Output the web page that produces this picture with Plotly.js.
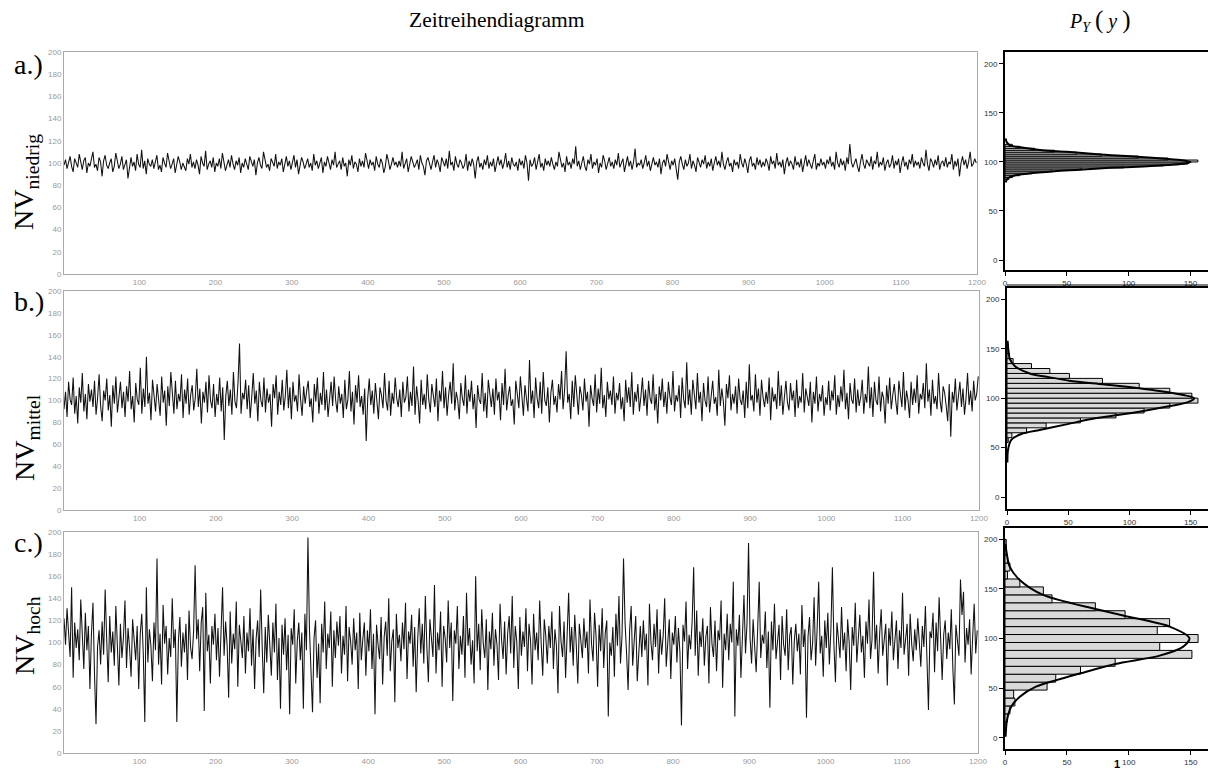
<!DOCTYPE html>
<html>
<head>
<meta charset="utf-8">
<script src="https://cdn.plot.ly/plotly-3.0.1.min.js"></script>
<style>html,body{margin:0;padding:0;background:#fff;}#chart{width:1208px;height:769px;}</style>
</head>
<body>
<div id="chart"></div>
<script>
// ---- Time series values (every 2nd time step, t = 1,3,5,...,1199) ----
const seriesNiedrig = [
98,103,95,101,106,97,92,104,100,96,108,99,94,102,105,91,100,97,103,110,
96,99,93,105,101,88,102,107,98,95,100,104,92,97,109,101,95,99,106,94,
100,103,86,98,105,97,101,93,108,99,96,112,95,102,90,104,99,97,103,95,
101,107,94,98,92,105,100,96,109,102,95,99,104,91,98,106,101,94,100,97,
93,104,99,108,96,101,95,103,98,90,106,100,97,111,94,99,102,96,105,92,
100,97,104,95,109,101,93,98,103,96,107,99,94,102,98,105,91,100,96,104,
99,94,106,101,97,103,89,100,105,98,95,110,102,96,99,93,104,100,97,108,
95,101,98,104,92,99,106,97,102,94,100,107,96,103,90,98,105,101,95,99,
104,96,100,93,108,98,102,95,99,105,91,101,97,106,100,94,103,98,110,96,
99,102,94,105,97,100,88,103,98,107,95,101,99,92,104,97,102,96,109,100,
95,103,98,101,93,106,99,96,104,100,91,97,108,102,94,99,105,98,101,96,
102,97,110,95,100,104,92,98,106,101,96,99,103,94,107,100,97,89,102,105,
98,94,101,107,96,103,99,92,105,100,97,104,95,111,98,101,93,106,99,96,
103,100,95,98,108,93,102,97,104,99,86,101,106,96,100,94,103,98,107,95,
101,97,104,92,99,106,98,103,95,100,109,96,102,94,105,99,97,101,93,104,
98,102,95,107,100,84,103,97,99,105,94,101,108,96,100,93,104,98,102,97,
105,99,94,101,97,110,103,96,100,92,106,98,101,95,104,99,115,97,102,94,
100,106,97,93,103,99,108,95,101,98,104,91,100,96,107,102,94,99,105,97,
101,95,103,98,109,96,100,104,92,99,106,97,102,94,101,113,96,100,98,103,
95,100,107,97,102,93,99,105,98,101,96,104,90,100,103,97,108,99,94,102,
98,104,96,85,101,106,99,94,103,97,100,108,95,102,98,92,105,100,96,103,
99,107,95,101,97,104,93,100,106,98,102,96,110,99,94,101,105,97,100,92,
103,98,101,95,108,100,96,104,99,91,102,106,97,100,94,105,98,103,96,101,
97,104,100,93,106,99,102,95,109,98,101,96,103,90,100,105,97,102,99,94,
106,98,101,96,104,92,100,107,97,103,99,95,102,108,94,100,97,104,98,101,
95,103,99,106,97,101,94,110,100,96,104,98,102,93,105,99,117,101,96,100,
104,97,92,101,108,99,95,103,100,97,106,94,102,99,110,96,101,98,105,93,
100,103,96,99,107,95,102,98,104,91,100,106,97,101,94,103,99,108,96,102,
98,101,95,105,100,97,112,99,93,104,101,96,103,98,107,94,100,102,97,105,
96,101,99,108,94,102,97,104,88,100,106,98,103,95,101,110,97,99,104,100];

const seriesMittel = [
92,108,85,117,101,96,121,88,104,79,112,98,125,90,106,83,115,99,110,94,
118,87,102,124,95,81,109,100,120,91,105,76,114,97,122,89,103,117,93,108,
85,113,99,127,92,104,80,116,101,96,130,88,111,94,140,97,107,82,119,100,
90,115,103,86,122,98,109,77,113,95,126,101,88,118,92,106,99,124,84,110,
97,120,87,105,114,91,102,129,94,111,79,108,98,117,89,123,100,93,115,85,
106,96,121,90,112,64,104,118,95,110,87,126,99,93,116,152,88,107,101,119,
92,114,84,103,125,97,109,81,117,100,94,121,89,111,98,106,76,115,102,123,
87,108,96,119,91,104,128,93,112,83,117,99,105,90,124,101,86,113,97,109,
118,94,102,80,115,99,121,88,107,96,126,91,110,85,103,117,95,122,100,89,
113,97,106,84,119,92,101,127,90,108,78,114,98,123,94,104,87,111,63,102,
120,96,109,88,116,99,83,112,105,93,125,100,91,118,86,107,97,121,102,94,
110,85,117,98,103,122,90,108,95,131,87,113,100,79,119,96,106,92,124,101,
89,115,104,94,120,81,109,99,127,93,112,86,105,117,97,134,91,108,100,83,
116,102,95,123,88,110,99,118,92,106,75,114,101,97,125,90,107,84,119,103,
94,111,87,120,100,108,82,116,96,129,91,104,113,95,101,78,118,106,93,122,
99,86,114,103,90,137,97,109,84,121,102,93,117,88,126,100,95,112,80,107,
119,96,104,89,115,101,127,92,110,145,98,106,83,118,94,123,100,87,113,105,
91,120,99,108,76,114,102,95,124,89,111,97,130,93,105,85,117,101,109,96,
122,88,107,100,116,92,103,81,119,98,112,94,126,87,108,99,115,90,104,121,
95,110,86,118,102,97,124,91,106,79,113,100,120,94,108,88,117,103,96,127,
90,105,99,114,84,121,101,93,135,96,110,87,119,104,92,125,98,108,81,116,
100,94,122,89,107,118,97,103,86,128,95,111,99,77,115,102,123,91,106,97,
113,88,120,101,96,109,84,117,93,133,100,105,90,124,98,111,86,119,103,94,
108,97,121,82,112,99,106,92,127,95,114,87,103,118,98,91,116,100,109,85,
119,93,104,98,125,89,111,101,95,117,80,108,97,122,90,106,99,114,86,103,
96,118,91,109,100,123,87,105,94,113,99,128,92,107,83,116,101,97,120,89,
110,95,103,119,88,106,98,131,93,112,85,117,100,96,122,90,108,102,79,114,
97,121,92,105,115,99,87,118,103,94,126,91,109,100,84,117,96,111,98,123,
88,106,101,116,93,134,99,110,86,119,97,104,92,125,100,89,113,107,95,81,
115,67,108,98,120,91,104,117,94,111,87,102,125,96,109,90,118,100,106,122];

const seriesHoch = [
122,98,131,106,87,150,68,118,95,112,84,139,102,76,127,93,115,58,108,136,
72,26,96,111,80,119,89,148,103,64,124,91,110,79,133,100,61,117,86,105,
138,77,113,95,69,121,102,84,115,58,107,126,90,28,150,82,112,97,65,118,
93,176,80,108,62,134,99,115,71,104,87,140,95,112,28,100,123,78,109,91,
117,66,129,96,85,110,170,103,121,74,118,132,38,145,92,107,63,115,98,126,
84,113,69,106,150,88,119,97,50,128,81,108,94,137,60,116,101,86,124,72,
109,92,131,79,112,58,103,120,87,148,96,54,114,82,125,99,70,118,91,135,
66,104,40,116,89,122,75,107,35,113,98,130,63,101,118,84,109,40,126,93,
195,112,81,37,104,120,68,99,45,117,91,137,76,108,95,128,60,111,86,119,
97,124,72,106,89,133,65,114,101,80,122,93,109,58,127,84,103,118,70,111,
92,130,76,108,35,116,98,85,123,62,105,119,88,140,74,101,112,46,126,95,
107,83,118,94,136,67,110,99,125,78,114,55,103,131,90,117,81,142,96,64,
121,100,87,152,72,109,93,128,60,115,104,82,138,95,118,47,111,99,133,76,
106,89,124,68,145,97,113,80,102,63,160,92,117,75,130,99,86,121,57,110,
94,127,79,112,98,66,135,103,85,119,71,108,124,90,142,77,115,100,58,123,
88,110,96,131,74,117,102,62,126,93,109,84,138,99,70,121,106,81,115,95,
128,76,112,97,54,133,101,87,119,68,108,145,91,114,79,125,98,63,117,104,
86,122,95,110,72,139,99,83,127,105,60,116,92,131,77,108,120,33,100,88,
114,69,126,97,142,81,106,176,118,90,57,111,133,79,102,124,65,98,115,87,
120,93,108,61,135,100,84,117,96,130,72,112,89,106,140,78,103,121,67,109,
98,124,82,113,91,25,116,101,137,76,107,94,119,168,88,129,70,110,96,122,
79,105,115,63,132,99,87,120,74,111,102,138,59,108,93,126,84,117,100,155,
33,112,97,125,68,109,143,90,118,190,104,81,121,96,73,113,155,86,107,99,
128,77,110,41,119,93,135,85,102,116,66,124,98,88,130,75,106,114,62,101,
117,92,108,71,134,96,112,32,105,123,84,99,141,79,113,155,90,106,69,120,
95,127,80,111,168,98,64,118,103,86,132,93,109,74,121,100,57,114,97,136,
82,110,125,91,106,68,119,99,139,85,103,164,94,116,72,108,130,88,101,117,
61,113,97,128,84,106,120,76,111,95,145,89,104,117,70,126,99,83,112,93,
122,101,78,115,96,133,87,39,110,104,127,73,118,92,141,99,66,107,120,85,
109,94,130,77,44,116,100,88,157,125,146,82,113,98,121,71,105,135,90,111];

// ---- Histogram values (bin centres, counts) ----
const histA_bins   = [83,85,87,89,91,93,95,97,99,101,103,105,107,109,111,113,115,117];
const histA_counts = [3,6,12,22,38,62,96,128,148,156,132,108,78,58,40,24,12,6];
const histB_bins   = [57.5,62.5,67.5,72.5,77.5,82.5,87.5,92.5,97.5,102.5,107.5,112.5,117.5,122.5,127.5,132.5,137.5,142.5,147.5,152.5];
const histB_counts = [1,4,16,32,60,89,112,133,156,151,133,108,78,51,35,20,5,2,1,1];
const histC_bins   = [12,20,28,36,44,52,60,68,76,84,92,100,108,116,124,132,140,148,156,164,172,180,188,196];
const histC_counts = [1,2,4,8,7,34,41,61,89,151,125,156,123,133,97,73,38,31,12,2,4,2,1,1];

// ---- Fitted density curves (count, value) ----
const curveA_y = [124,120,117,114.5,112,110.5,108,106,104,102,100,98.5,97,95.5,94,92,90.5,88,86,83,79];
const curveA_x = [0.5,1.5,4,15,30,50,75,98,122,142,150,146,132,112,85,60,40,18,7,2,0.5];
const curveB_y = [158,150,145,140,132.5,125,121,117.7,114,110,105.6,100,96,92,86.3,79.6,73.5,67.8,63.7,57.7,47.6,35];
const curveB_x = [0.5,1,1.5,2.2,6.3,18.5,35,51,78.5,108,133.6,153,148,133,108,72,48.5,26.7,11.7,3.5,0.8,0.3];
const curveC_y = [195,189,172.4,159,143.9,129.7,122.7,112,100.2,91.8,82.7,74.3,64.9,58,51.4,41.3,31.3,17.8,1];
const curveC_x = [0.5,1,3.8,11.9,30.8,73,97,133,149,144,125,89,61,41.5,25,12,5,1.6,0.5];

const tsTickVals = [100,200,300,400,500,600,700,800,900,1000,1100,1200];

// ---- build traces ----
const W = 1208, H = 769;
const px = v => v / W;
const py = v => 1 - v / H;
const timeIdx = arr => arr.map((_, i) => 1 + 2 * i);

const lineStyle = {color: '#111', width: 1.05};
const traces = [];
[[seriesNiedrig, 'x', 'y'], [seriesMittel, 'x2', 'y2'], [seriesHoch, 'x3', 'y3']].forEach(([s, xa, ya]) => {
  traces.push({type: 'scatter', mode: 'lines', x: timeIdx(s), y: s, xaxis: xa, yaxis: ya,
               line: lineStyle, hoverinfo: 'skip'});
});
const barStyle = {color: '#d9d9d9', line: {color: '#000', width: 1}};
[[histA_bins, histA_counts, 2, 'x4', 'y4'], [histB_bins, histB_counts, 5, 'x5', 'y5'], [histC_bins, histC_counts, 8, 'x6', 'y6']]
  .forEach(([b, c, w, xa, ya]) => {
    traces.push({type: 'bar', orientation: 'h', y: b, x: c, width: w, xaxis: xa, yaxis: ya,
                 marker: barStyle, hoverinfo: 'skip'});
  });
[[curveA_x, curveA_y, 'x4', 'y4'], [curveB_x, curveB_y, 'x5', 'y5'], [curveC_x, curveC_y, 'x6', 'y6']]
  .forEach(([cx, cy, xa, ya]) => {
    traces.push({type: 'scatter', mode: 'lines', x: cx, y: cy, xaxis: xa, yaxis: ya,
                 line: {color: '#000', width: 2, shape: 'spline', smoothing: 0.8}, hoverinfo: 'skip'});
  });

const tsFont = {family: 'Liberation Sans, Arial, sans-serif', size: 8, color: '#9a9a9a'};
function tsX(l, r, anchor) {
  return {domain: [px(l), px(r)], range: [1, 1200], tickvals: tsTickVals, showline: true, linecolor: '#aaa',
          linewidth: 1, mirror: true, ticks: '', showgrid: false, zeroline: false, tickfont: tsFont, anchor: anchor};
}
function tsY(t, b, anchor) {
  return {domain: [py(b), py(t)], range: [0, 200], dtick: 20, tick0: 0, showline: true, linecolor: '#aaa',
          linewidth: 1, mirror: true, ticks: '', showgrid: false, zeroline: false, tickfont: tsFont, anchor: anchor};
}
const hFont = {family: 'Liberation Sans, Arial, sans-serif', size: 8, color: '#333'};
function hX(l, xmax, anchor) {
  return {domain: [px(l), 1], range: [0, xmax], dtick: 50, tick0: 0, showline: true, linecolor: '#000', linewidth: 2,
          mirror: true, ticks: 'outside', ticklen: 4, tickcolor: '#000', tickwidth: 1, showgrid: false,
          zeroline: false, tickfont: hFont, anchor: anchor};
}
function hY(t, b, r0, r1, anchor) {
  return {domain: [py(b), py(t)], range: [r0, r1], dtick: 50, tick0: 0, showline: true, linecolor: '#000', linewidth: 2,
          mirror: true, ticks: 'outside', ticklen: 4, tickcolor: '#000', tickwidth: 1, showgrid: false,
          zeroline: false, tickfont: hFont, anchor: anchor};
}

const serif = 'Liberation Serif, Times New Roman, serif';
const ann = (text, x, y, size, opts) => Object.assign({text: text, x: px(x), y: py(y), xref: 'paper', yref: 'paper',
  xanchor: 'center', yanchor: 'middle', showarrow: false, font: {family: serif, size: size, color: '#000'}}, opts || {});

const layout = {
  width: W, height: H, margin: {l: 0, r: 0, t: 0, b: 0}, paper_bgcolor: '#fff', plot_bgcolor: '#fff',
  showlegend: false, bargap: 0,
  xaxis: tsX(64, 977, 'y'), yaxis: tsY(52, 274, 'x'),
  xaxis2: tsX(64, 979, 'y2'), yaxis2: tsY(291, 510, 'x2'),
  xaxis3: tsX(64, 978, 'y3'), yaxis3: tsY(532, 753, 'x3'),
  xaxis4: hX(1005, 164.2, 'y4'), yaxis4: hY(52, 270, -10.2, 212.2, 'x4'),
  xaxis5: hX(1007, 164.2, 'y5'), yaxis5: hY(288, 509, -12.1, 211.4, 'x5'),
  xaxis6: hX(1005, 164, 'y6'), yaxis6: hY(528, 749, -11.4, 211.4, 'x6'),
  shapes: [{type: 'line', xref: 'paper', yref: 'paper', x0: px(1007), x1: 1, y0: py(285), y1: py(285),
            line: {color: '#000', width: 1}}],
  annotations: [
    ann('Zeitreihendiagramm', 497, 20, 21.5),
    ann('<i>P</i><sub><i>Y</i></sub> <span style="font-size:25px">(</span> <i>y</i> <span style="font-size:25px">)</span>', 1100, 21, 20),
    ann('a.)', 12, 64, 28, {xanchor: 'left'}),
    ann('b.)', 12, 301, 28, {xanchor: 'left'}),
    ann('c.)', 12, 542, 28, {xanchor: 'left'}),
    ann('NV<sub>niedrig</sub>', 26, 182, 28, {textangle: -90}),
    ann('NV<sub>mittel</sub>', 26, 438, 28, {textangle: -90}),
    ann('NV<sub>hoch</sub>', 26, 636, 28, {textangle: -90}),
    ann('<b>1</b>', 1117, 764, 11, {font: {family: 'Liberation Sans, Arial, sans-serif', size: 11, color: '#000'}})
  ]
};

Plotly.newPlot('chart', traces, layout, {staticPlot: true, displayModeBar: false});
</script>
</body>
</html>
